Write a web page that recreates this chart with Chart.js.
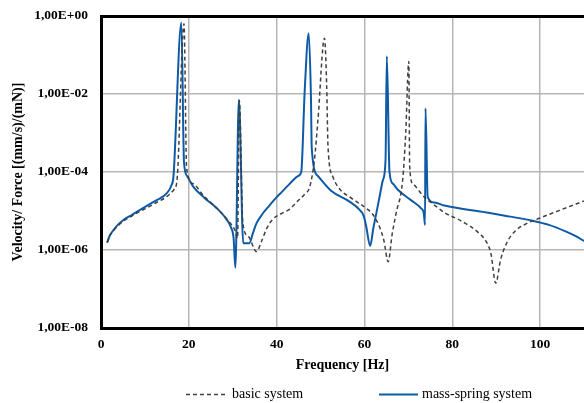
<!DOCTYPE html>
<html>
<head>
<meta charset="utf-8">
<script src="https://cdn.jsdelivr.net/npm/chart.js@4"></script>
<style>
  html, body { margin: 0; padding: 0; background: #fff; }
  #wrap { width: 584px; height: 403px; position: relative; }
</style>
</head>
<body>
<div id="wrap"><canvas id="frfChart" width="584" height="403"></canvas></div>
<script>
// values
const freqBasic = [1.4, 2.0, 2.8, 4.0, 5.1, 7.0, 8.9, 11.0, 12.7, 14.9, 16.6, 17.3, 18.9, 19.5, 21.0, 23.3, 26.0, 28.6, 30.5, 31.1, 31.5, 32.3, 33.6, 35.4, 36.5, 37.7, 39.2, 41.0, 43.0, 44.5, 46.5, 47.5, 48.6, 49.4, 50.9, 51.4, 51.7, 52.8, 54.5, 56.6, 60.4, 62.0, 63.4, 64.4, 65.4, 66.3, 67.2, 68.7, 69.4, 70.1, 70.3, 71.0, 73.6, 76.0, 78.2, 82.0, 86.1, 87.8, 88.8, 89.9, 91.0, 92.5, 94.5, 97.0, 99.8, 105.0, 110.0];
const basicSystem = [1.55e-6, 2.3e-6, 3.1e-6, 4.3e-6, 5.5e-6, 7.4e-6, 9.8e-6, 1.3e-5, 1.66e-5, 2.3e-5, 3.5e-5, 6e-5, 0.63, 1.26e-4, 5e-5, 2.5e-5, 1.3e-5, 6.3e-6, 3.2e-6, 2e-6, 6.8e-3, 5e-6, 2.2e-6, 9.1e-7, 1.6e-6, 3.5e-6, 6.3e-6, 8.5e-6, 1.12e-5, 1.66e-5, 2.8e-5, 4e-5, 2e-4, 2.1e-3, 0.27, 1.55e-2, 4.5e-4, 7.6e-5, 3.5e-5, 2.3e-5, 1.17e-5, 7.9e-6, 4e-6, 1.8e-6, 5e-7, 2.5e-6, 8.7e-6, 6.2e-5, 1e-3, 6.8e-2, 1.4e-4, 5.1e-5, 2.3e-5, 1.4e-5, 9.1e-6, 5.6e-6, 2.7e-6, 1.6e-6, 8.1e-7, 1.4e-7, 5.6e-7, 1.6e-6, 3.2e-6, 4.8e-6, 6.5e-6, 1.1e-5, 1.8e-5];

const freqMassSpring = [1.4, 2.0, 2.8, 4.0, 5.1, 7.0, 8.9, 11.0, 12.7, 14.9, 16.1, 16.5, 18.3, 18.9, 19.6, 21.0, 23.5, 26.3, 28.5, 29.6, 30.2, 30.6, 31.4, 32.4, 33.8, 34.6, 35.4, 36.8, 38.4, 39.9, 41.2, 42.5, 43.8, 44.8, 45.6, 46.4, 47.3, 47.8, 48.0, 49.4, 52.4, 56.6, 58.9, 59.8, 60.4, 61.3, 62.0, 62.7, 63.5, 64.2, 64.8, 65.1, 65.7, 66.5, 67.6, 70.6, 72.9, 73.5, 73.8, 73.9, 74.4, 75.9, 78.2, 86.9, 92.0, 98.3, 102.0, 105.8, 108.0, 110.0];
const massSpringSystem = [1.55e-6, 2.35e-6, 3.2e-6, 4.6e-6, 5.9e-6, 7.9e-6, 1.07e-5, 1.48e-5, 1.9e-5, 2.8e-5, 4.7e-5, 7.6e-5, 0.68, 1.8e-4, 7.9e-5, 4.2e-5, 2.2e-5, 1.2e-5, 6.3e-6, 3.8e-6, 2e-6, 3.5e-7, 7.1e-3, 1.5e-6, 1.5e-6, 2.7e-6, 4.8e-6, 8.5e-6, 1.4e-5, 2.2e-5, 3.1e-5, 4.4e-5, 6.2e-5, 7.8e-5, 1e-4, 1.26e-2, 0.36, 1e-2, 4e-4, 7.9e-5, 3.3e-5, 1.74e-5, 1.07e-5, 7.6e-6, 4e-6, 1.26e-6, 3.5e-6, 8.7e-6, 2.5e-5, 6.2e-5, 2e-4, 9.3e-2, 1e-4, 5e-5, 3.5e-5, 1.9e-5, 1.17e-5, 8.9e-6, 4.4e-6, 4.3e-3, 2.3e-5, 1.66e-5, 1.38e-5, 9.5e-6, 7.6e-6, 5.6e-6, 4.4e-6, 3e-6, 2.3e-6, 1.7e-6];

const seriesNames = ['basic system', 'mass-spring system'];
const xTicks = [0, 20, 40, 60, 80, 100];
const yTicks = [1e-8, 1e-6, 1e-4, 1e-2, 1];
const yTickLabels = ['1,00E-08', '1,00E-06', '1,00E-04', '1,00E-02', '1,00E+00'];

const blue = '#0d5aa7';
const dark = '#404040';
const gridGrey = '#b9b5b5';
const serif = "'Liberation Serif', 'Times New Roman', serif";

function toPoints(xs, ys) {
  return xs.map((x, i) => ({ x: x, y: ys[i] }));
}

// legend drawn under the plot, as in the reference
const bottomLegend = {
  id: 'bottomLegend',
  afterDraw(chart) {
    const ctx = chart.ctx;
    const y = 394.5;
    const items = [
      { x0: 186, x1: 228, color: dark, width: 1.5, dash: [4, 3], text: seriesNames[0] },
      { x0: 379, x1: 418, color: blue, width: 2, dash: [], text: seriesNames[1] }
    ];
    ctx.save();
    ctx.font = '14px ' + serif;
    ctx.textBaseline = 'middle';
    items.forEach(it => {
      ctx.beginPath();
      ctx.strokeStyle = it.color;
      ctx.lineWidth = it.width;
      ctx.setLineDash(it.dash);
      ctx.moveTo(it.x0, y);
      ctx.lineTo(it.x1, y);
      ctx.stroke();
      ctx.setLineDash([]);
      ctx.fillStyle = '#000';
      ctx.fillText(it.text, it.x1 + 4, y);
    });
    ctx.restore();
  }
};

new Chart(document.getElementById('frfChart'), {
  type: 'line',
  data: {
    datasets: [
      {
        label: seriesNames[0],
        data: toPoints(freqBasic, basicSystem),
        borderColor: dark,
        borderWidth: 1.5,
        borderDash: [4, 3],
        pointRadius: 0,
        cubicInterpolationMode: 'monotone',
        fill: false
      },
      {
        label: seriesNames[1],
        data: toPoints(freqMassSpring, massSpringSystem),
        borderColor: blue,
        borderWidth: 2,
        pointRadius: 0,
        cubicInterpolationMode: 'monotone',
        fill: false
      }
    ]
  },
  options: {
    responsive: false,
    animation: false,
    layout: { padding: { top: 16, right: 0, bottom: 23, left: 0 } },
    plugins: {
      legend: { display: false },
      tooltip: { enabled: false }
    },
    scales: {
      x: {
        type: 'linear',
        min: 0,
        max: 110,
        afterBuildTicks: (scale) => { scale.ticks = xTicks.map(v => ({ value: v })); },
        afterFit: (scale) => { scale.height = 52; },
        grid: { color: gridGrey, lineWidth: 1.5, drawTicks: false },
        border: { color: '#000', width: 3 },
        ticks: {
          padding: 8,
          maxRotation: 0,
          color: '#000',
          font: { family: serif, size: 13.5, weight: 'bold' }
        },
        title: {
          display: true,
          text: 'Frequency [Hz]',
          color: '#000',
          font: { family: serif, size: 14, weight: 'bold' },
          padding: { top: 0, bottom: 6 }
        }
      },
      y: {
        type: 'logarithmic',
        min: 1e-8,
        max: 1,
        afterBuildTicks: (scale) => { scale.ticks = yTicks.map(v => ({ value: v })); },
        afterFit: (scale) => {
          scale.width = 101;
          scale.paddingTop = 8;
          scale.paddingBottom = 8;
        },
        grid: {
          color: (c) => (c.tick && c.tick.value === 1 ? '#000' : gridGrey),
          lineWidth: (c) => (c.tick && c.tick.value === 1 ? 3 : 1.5),
          drawTicks: false
        },
        border: { color: '#000', width: 3 },
        ticks: {
          padding: 13,
          color: '#000',
          font: { family: serif, size: 13.5, weight: 'bold' },
          callback: (v) => {
            const i = yTicks.findIndex(t => Math.abs(Math.log10(t) - Math.log10(v)) < 1e-6);
            return i >= 0 ? yTickLabels[i] : '';
          }
        },
        title: {
          display: true,
          text: 'Velocity/ Force [(mm/s)/(mN)]',
          color: '#000',
          font: { family: serif, size: 14, weight: 'bold' },
          padding: { top: 10, bottom: 0 }
        }
      }
    }
  },
  plugins: [bottomLegend]
});
</script>
</body>
</html>
